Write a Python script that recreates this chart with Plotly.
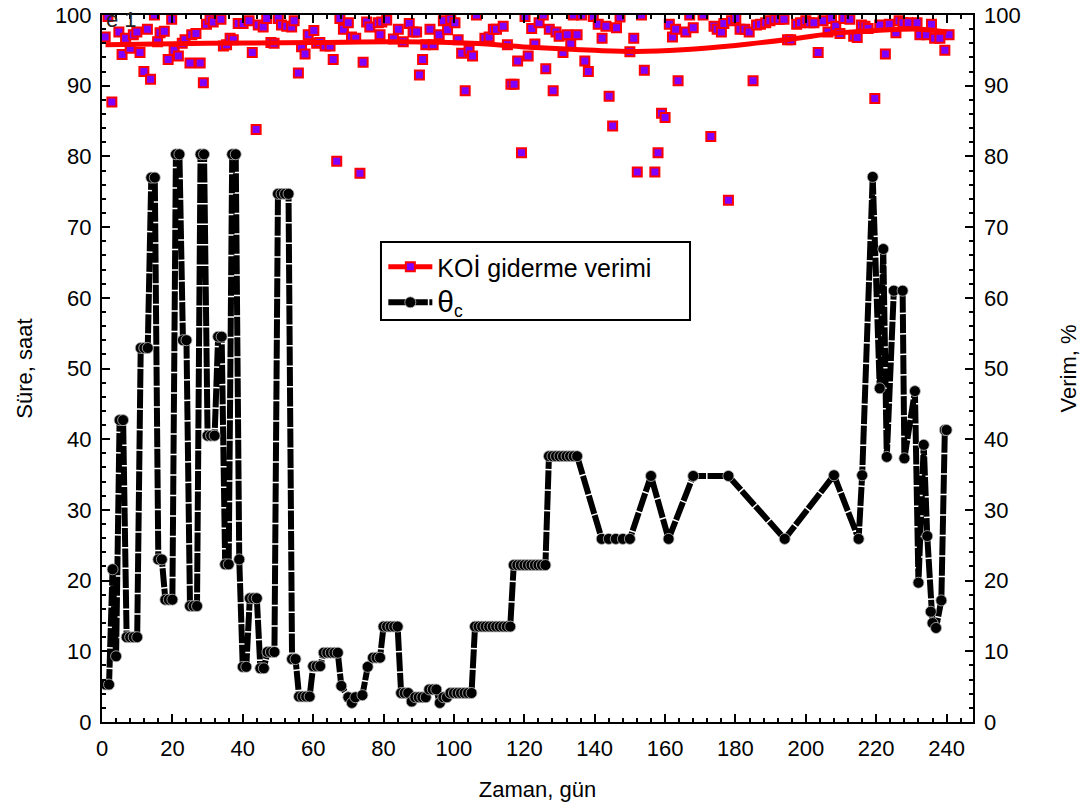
import plotly.graph_objects as go

# ---- θc (Süre, saat) ----
theta_day = [1, 2, 3, 4, 5, 6, 7, 8, 9, 10, 11, 12, 13, 14, 15, 16, 17, 18, 19, 20,
             21, 22, 23, 24, 25, 26, 27, 28, 29, 30, 31, 32, 33, 34, 35, 36, 37, 38, 39, 40,
             41, 42, 43, 44, 45, 46, 47, 48, 49, 50, 51, 52, 53, 54, 55, 56, 57, 58, 59, 60,
             61, 62, 63, 64, 65, 66, 67, 68, 70, 71, 72, 74, 75.5, 77, 78, 79, 80, 81, 82, 83,
             84, 85, 86, 87, 88, 89, 90, 91, 92, 93, 94, 95, 96, 97, 98, 99, 100, 101, 102, 103,
             104, 105, 106, 107, 108, 109, 110, 111, 112, 113, 114, 115, 116, 117, 118, 119, 120, 121, 122, 123,
             124, 125, 126, 127, 128, 129, 130, 131, 132, 133, 134, 135, 142, 144, 146, 148, 150, 156, 161, 168,
             178, 194, 208, 215, 216, 219, 221, 222, 223, 225, 227.5, 228, 231, 232, 233.5, 234.5, 235.5, 236, 237, 238.5,
             239.5, 240]
theta_val = [5.3, 5.3, 21.6, 9.3, 42.7, 42.7, 12, 12, 12, 12, 52.9, 52.9, 52.9, 77, 77, 23, 23, 17.3, 17.3, 17.3,
             80.3, 80.3, 54, 54, 16.4, 16.4, 16.4, 80.3, 80.3, 40.5, 40.5, 40.5, 54.5, 54.5, 22.3, 22.3, 80.3, 80.3, 23, 7.8,
             7.8, 17.5, 17.5, 17.5, 7.6, 7.6, 9.9, 9.9, 9.9, 74.7, 74.7, 74.7, 74.7, 8.9, 8.9, 3.6, 3.6, 3.6, 3.6, 7.9,
             7.9, 7.9, 9.8, 9.8, 9.8, 9.8, 9.8, 5.1, 3.5, 2.7, 3.5, 3.8, 7.8, 9.1, 9.1, 9.1, 13.5, 13.5, 13.5, 13.5,
             13.5, 4.1, 4.1, 4.1, 2.9, 3.5, 3.5, 3.5, 3.5, 4.6, 4.6, 4.6, 2.7, 3.5, 3.5, 4.1, 4.1, 4.1, 4.1, 4.1,
             4.1, 4.1, 13.5, 13.5, 13.5, 13.5, 13.5, 13.5, 13.5, 13.5, 13.5, 13.5, 13.5, 22.2, 22.2, 22.2, 22.2, 22.2, 22.2, 22.2,
             22.2, 22.2, 22.2, 37.6, 37.6, 37.6, 37.6, 37.6, 37.6, 37.6, 37.6, 37.6, 25.9, 25.9, 25.9, 25.9, 25.9, 34.8, 25.9, 34.8,
             34.8, 25.9, 34.9, 25.9, 34.9, 77.1, 47.2, 66.9, 37.5, 61, 61, 37.3, 46.8, 19.7, 39.2, 26.3, 15.6, 14, 13.3, 17.2,
             41.3, 41.3]

# ---- KOİ giderme verimi (Verim, %) ----
koi_day = [0.9, 1.7, 2.8, 4.8, 5.7, 6.7, 8, 8.9, 9.9, 10.8, 11.9, 12.9, 13.8, 14.9, 15.8, 16.5, 17.7, 18.8, 19.8, 20.5,
           21.7, 22.8, 23.6, 25, 25.5, 26.7, 27.9, 28.8, 29.7, 30.7, 31.6, 33.8, 34.5, 35.4, 36.4, 37.3, 38.7, 40.1, 41.8, 42.7,
           43.8, 44.4, 45.8, 46.8, 48, 48.9, 50.1, 51, 52.5, 53.9, 54.6, 55.8, 56.7, 57.7, 58.6, 60.2, 61, 61.9, 63.4, 64.8,
           65.7, 66.7, 67.6, 68.6, 70, 70.9, 72.1, 73.3, 74.2, 75.2, 76.1, 78.5, 79, 79.5, 80.9, 82.8, 84.2, 85.6, 87.3, 88.4,
           89.4, 90.2, 91.1, 92, 93.2, 94.1, 95.8, 97, 98.2, 99.1, 100.3, 101.2, 102.2, 103.2, 104.3, 105.3, 106.4, 108.8, 110, 111.2,
           112.1, 114, 115.2, 116.2, 117.1, 118.1, 119.2, 120.2, 121.1, 122.1, 123, 124.2, 125.4, 126.1, 127.1, 128.2, 129, 129.9, 131, 132.2,
           133.2, 133.9, 135, 136.3, 137.2, 138.2, 139.6, 141, 142.1, 143.2, 144.1, 145.1, 146.2, 147.2, 150, 151.1, 152.1, 153.3, 154.1, 157.1,
           158, 159, 160, 161.2, 162.1, 163, 163.7, 165.9, 167, 168, 170.8, 173, 173.9, 174.8, 176, 176.7, 178, 178.9, 180.1, 181.3,
           182.7, 183.9, 185, 186, 187.1, 188.6, 189.8, 191.2, 192.4, 193.8, 194.8, 195.7, 197.4, 198.5, 200, 201.1, 202.3, 203.5, 204.9, 206.3,
           207.3, 208.5, 209.7, 210.8, 212.5, 213.6, 214.6, 215.8, 216.8, 217.7, 219.6, 221, 222.6, 223.7, 225.6, 226.5, 227.6, 229.1, 231.6, 232.4,
           234.3, 235.7, 236.6, 238.1, 239.5, 240.7]
koi_val = [96.9, 99.8, 87.7, 97.6, 94.4, 96.7, 95.3, 97.2, 97.6, 94.7, 92.0, 98.0, 90.9, 100.0, 96.2, 97.5, 97.7, 93.7, 99.4, 95.0,
           94.2, 96.0, 96.5, 93.2, 97.2, 97.4, 93.2, 90.4, 98.7, 99.4, 99.0, 99.4, 95.6, 95.8, 96.7, 96.5, 98.8, 98.8, 99.2, 94.7,
           83.8, 98.6, 98.3, 99.5, 96.1, 96.0, 99.5, 98.6, 98.4, 98.3, 99.2, 91.8, 95.5, 94.5, 97.2, 97.8, 96.0, 96.1, 95.6, 95.6,
           93.7, 79.3, 99.5, 98.0, 98.9, 96.9, 96.7, 77.6, 93.3, 99.0, 98.3, 98.9, 97.2, 99.0, 99.3, 96.6, 98.0, 96.2, 98.8, 97.6,
           97.6, 91.5, 93.7, 95.8, 98.0, 95.8, 97.2, 99.2, 97.9, 99.4, 98.9, 96.5, 94.6, 89.3, 95.0, 94.2, 100.0, 96.7, 96.9, 98.0,
           98.0, 98.4, 95.8, 90.2, 90.2, 93.5, 80.5, 99.8, 94.2, 98.1, 95.9, 98.9, 100.0, 92.4, 98.0, 89.3, 97.6, 97.0, 94.7, 97.2,
           95.9, 100.0, 97.2, 100.0, 93.5, 92.0, 99.8, 98.7, 96.7, 98.4, 88.5, 84.3, 98.2, 99.7, 94.8, 96.7, 77.8, 100.0, 92.2, 77.8,
           80.5, 86.1, 85.5, 98.7, 96.9, 98.0, 90.7, 97.6, 100.0, 98.2, 100.0, 82.8, 98.4, 98.0, 97.6, 98.8, 73.8, 99.2, 99.5, 98.0,
           98.0, 97.6, 90.7, 98.6, 98.7, 98.9, 99.2, 99.4, 99.4, 99.4, 96.5, 96.5, 98.7, 98.9, 99.2, 98.9, 98.9, 94.7, 99.2, 97.6,
           99.5, 98.4, 97.4, 99.5, 99.4, 97.0, 96.8, 98.6, 98.4, 98.1, 88.2, 98.6, 94.5, 98.7, 97.5, 99.2, 98.9, 98.9, 98.9, 97.2,
           97.2, 98.7, 96.7, 96.7, 95.0, 97.2]

# ---- KOİ trend (smoothed) ----
trend_day = [1, 30, 60, 85, 105, 123, 140, 152, 165, 180, 196, 208, 220, 232, 240]
trend_val = [95.8, 96.0, 96.1, 96.2, 96.0, 95.4, 95.0, 94.85, 95.1, 95.7, 96.6, 97.4, 97.8, 98.0, 97.6]

x_ticks = list(range(0, 241, 20))
y_ticks = list(range(0, 101, 10))

FONT = "Liberation Sans, Arial, sans-serif"
PURPLE = "#8000FF"
RED = "#FF0000"
FS = 22

fig = go.Figure()

# legend-only entry for KOİ
fig.add_trace(go.Scatter(
    x=[None], y=[None], yaxis="y2", mode="lines+markers", name="KOİ giderme verimi",
    line=dict(color=RED, width=5),
    marker=dict(symbol="square", size=9, color=PURPLE, line=dict(color=RED, width=2)),
))

# θc series
fig.add_trace(go.Scatter(
    x=theta_day, y=theta_val, mode="lines+markers",
    name="<span style='font-size:30px'>θ</span><sub>c</sub>",
    line=dict(color="black", width=6, dash="19px,1.5px"),
    marker=dict(symbol="circle", size=11, color="black", line=dict(color="#bbbbbb", width=0.8)),
))

# KOİ scatter
fig.add_trace(go.Scatter(
    x=koi_day, y=koi_val, yaxis="y2", mode="markers", showlegend=False,
    marker=dict(symbol="square", size=9, color=PURPLE, line=dict(color=RED, width=2)),
))

# KOİ trend line
fig.add_trace(go.Scatter(
    x=trend_day, y=trend_val, yaxis="y2", mode="lines", showlegend=False,
    line=dict(color=RED, width=5, shape="spline", smoothing=1.0),
))

axis_common = dict(
    showgrid=False, zeroline=False, ticks="inside", ticklen=8, tickwidth=1.5,
    tickcolor="black", tickfont=dict(size=FS, color="black", family=FONT),
    automargin=False,
)

fig.update_layout(
    width=1085, height=810,
    margin=dict(l=102, r=112, t=15, b=88),
    paper_bgcolor="white", plot_bgcolor="white",
    font=dict(family=FONT, size=FS, color="black"),
    xaxis=dict(
        range=[0, 247.5], tickvals=x_ticks, showline=True, linecolor="black", linewidth=2,
        mirror="ticks", ticklabelstandoff=6,
        minor=dict(ticks="inside", ticklen=4, dtick=4, tick0=0, tickcolor="black", showgrid=False),
        title=dict(text="Zaman, gün", font=dict(size=FS, family=FONT), standoff=21),
        **axis_common,
    ),
    yaxis=dict(
        range=[0, 100], tickvals=y_ticks, showline=True, linecolor="black", linewidth=2,
        mirror="ticks", ticklabelstandoff=4,
        minor=dict(ticks="inside", ticklen=4, dtick=2, tick0=0, tickcolor="black", showgrid=False),
        title=dict(text="Süre, saat", font=dict(size=FS, family=FONT), standoff=16),
        **axis_common,
    ),
    yaxis2=dict(
        range=[0, 100], tickvals=y_ticks, overlaying="y", side="right", showline=False,
        ticklabelstandoff=10, automargin=False,
        title=dict(text="Verim, %", font=dict(size=FS, family=FONT), standoff=40),
        showgrid=False, zeroline=False, ticks="",
        tickfont=dict(size=FS, color="black", family=FONT),
    ),
    legend=dict(
        x=0.323, y=0.676, xanchor="left", yanchor="top",
        bgcolor="rgba(0,0,0,0)", borderwidth=0,
        font=dict(size=25, family=FONT), itemwidth=44, traceorder="normal",
        tracegroupgap=0,
    ),
    shapes=[dict(
        type="rect", xref="paper", yref="paper",
        x0=0.3203, x1=0.6751, y0=0.5686, y1=0.679,
        line=dict(color="black", width=2), fillcolor="white", layer="below",
    )],
    annotations=[dict(
        text="e 1", xref="paper", yref="paper", x=0, y=0.993, xanchor="left", yanchor="middle",
        showarrow=False, xshift=2, font=dict(size=FS, color="#222222", family=FONT),
    )],
)

fig.write_html("out.html")
